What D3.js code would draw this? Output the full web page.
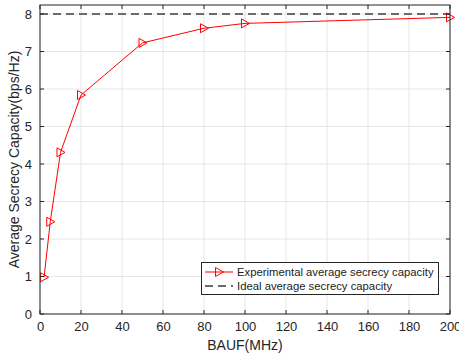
<!DOCTYPE html>
<html><head><meta charset="utf-8">
<script src="https://cdn.jsdelivr.net/npm/d3@7"></script>
<style>body{margin:0;background:#fff}svg{display:block}text{font-family:"Liberation Sans",Arial,sans-serif}</style>
</head><body>
<svg id="c" width="459" height="357"></svg>
<script>
const bauf = [2, 5, 10, 20, 50, 80, 100, 200];
const experimental = [0.98, 2.46, 4.31, 5.84, 7.23, 7.62, 7.75, 7.91];
const idealValue = 8.0;
const xTicks = [0,20,40,60,80,100,120,140,160,180,200];
const yTicks = [0,1,2,3,4,5,6,7,8];
const seriesNames = ["Experimental average secrecy capacity","Ideal average secrecy capacity"];

const svg = d3.select("#c");
const L=40, R=450, T=5, B=314;
const x = d3.scaleLinear().domain([0,200]).range([L,R]);
const y = d3.scaleLinear().domain([0,8.24]).range([B,T]);
const axisCol = "#262626";

// grid
const g = svg.append("g");
g.selectAll(".gx").data(xTicks).enter().append("line")
 .attr("x1",d=>x(d)).attr("x2",d=>x(d)).attr("y1",T).attr("y2",B)
 .attr("stroke","#e6e6e6").attr("stroke-width",1);
g.selectAll(".gy").data(yTicks).enter().append("line")
 .attr("x1",L).attr("x2",R).attr("y1",d=>y(d)).attr("y2",d=>y(d))
 .attr("stroke","#e6e6e6").attr("stroke-width",1);

// ideal line
svg.append("line").attr("x1",x(0)).attr("x2",x(200)).attr("y1",y(idealValue)).attr("y2",y(idealValue))
 .attr("stroke","#6b6b6b").attr("stroke-width",2).attr("stroke-dasharray","8,5");

// experimental line
const line = d3.line().x((d,i)=>x(bauf[i])).y(d=>y(d));
svg.append("path").datum(experimental).attr("d",line).attr("fill","none").attr("stroke","#ff0000").attr("stroke-width",1);
const tri = "M-3.5,-4.5 L4.5,0 L-3.5,4.5 Z";
svg.selectAll(".m").data(experimental).enter().append("path")
 .attr("d",tri).attr("transform",(d,i)=>`translate(${x(bauf[i])},${y(d)})`)
 .attr("fill","none").attr("stroke","#ff0000").attr("stroke-width",1);

// axes
const fs = 13;
const xa = d3.axisBottom(x).tickValues(xTicks).tickSize(0).tickPadding(8);
const ya = d3.axisLeft(y).tickValues(yTicks).tickSize(0).tickPadding(8);
const gx = svg.append("g").attr("transform",`translate(0,${B})`).call(xa);
const gy = svg.append("g").attr("transform",`translate(${L},0)`).call(ya);
[gx,gy].forEach(a=>{a.select(".domain").remove();a.selectAll("text").attr("fill",axisCol).style("font-size",fs+"px").style("font-family","Liberation Sans, Arial, sans-serif");});
// inward ticks on all four sides
const tk = svg.append("g").attr("stroke",axisCol).attr("stroke-width",1);
xTicks.forEach(v=>{
 tk.append("line").attr("x1",x(v)).attr("x2",x(v)).attr("y1",B).attr("y2",B-4);
 tk.append("line").attr("x1",x(v)).attr("x2",x(v)).attr("y1",T).attr("y2",T+4);
});
yTicks.forEach(v=>{
 tk.append("line").attr("x1",L).attr("x2",L+4).attr("y1",y(v)).attr("y2",y(v));
 tk.append("line").attr("x1",R).attr("x2",R-4).attr("y1",y(v)).attr("y2",y(v));
});
svg.append("rect").attr("x",L).attr("y",T).attr("width",R-L).attr("height",B-T)
 .attr("fill","none").attr("stroke",axisCol).attr("stroke-width",1);

// labels
svg.append("text").attr("x",(L+R)/2).attr("y",350).attr("text-anchor","middle")
 .attr("fill",axisCol).style("font-size","14px").text("BAUF(MHz)");
svg.append("text").attr("transform",`translate(19,${(T+B)/2}) rotate(-90)`).attr("text-anchor","middle")
 .attr("fill",axisCol).style("font-size","14px").text("Average Secrecy Capacity(bps/Hz)");

// legend
const lg = svg.append("g");
lg.append("rect").attr("x",201.5).attr("y",262.5).attr("width",237).attr("height",32)
 .attr("fill","#fff").attr("stroke",axisCol).attr("stroke-width",1);
lg.append("line").attr("x1",205).attr("x2",233).attr("y1",272).attr("y2",272).attr("stroke","#ff0000");
lg.append("path").attr("d",tri).attr("transform","translate(219,272)").attr("fill","none").attr("stroke","#ff0000");
lg.append("line").attr("x1",205).attr("x2",233).attr("y1",286).attr("y2",286).attr("stroke","#6b6b6b").attr("stroke-width",2).attr("stroke-dasharray","8,5");
lg.selectAll(".lt").data(seriesNames).enter().append("text")
 .attr("x",237).attr("y",(d,i)=>276+i*14).attr("fill","#222").style("font-size","11.3px").text(d=>d);
</script>
</body></html>
